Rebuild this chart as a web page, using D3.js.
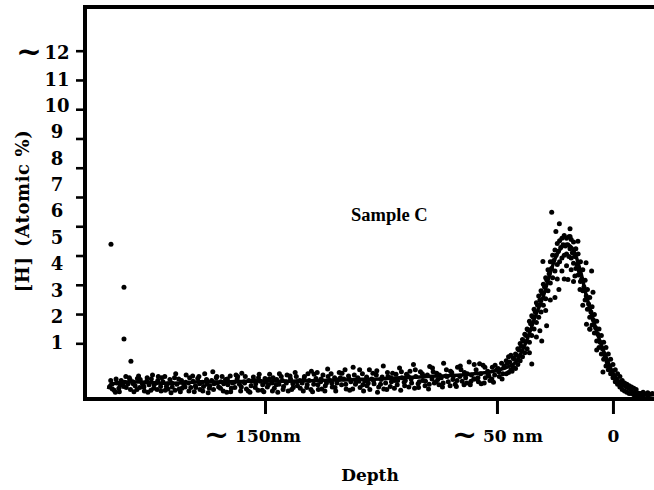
<!DOCTYPE html>
<html>
<head>
<meta charset="utf-8">
<script src="https://cdn.jsdelivr.net/npm/d3@7/dist/d3.min.js"></script>
<style>
  html, body { margin: 0; padding: 0; background: #fff; }
  svg { display: block; }
  text { fill: #000; }
</style>
</head>
<body>
<svg id="chart" width="654" height="490"></svg>
<script>
// Hydrogen depth profile, Sample C: measured points plus fitted curve.

// Y-axis labels (atomic %) and x-axis ticks (depth, nm)
const hLabels = [1, 2, 3, 4, 5, 6, 7, 8, 9, 10, 11, 12];
const hTickMarks = [0, 1, 2, 3, 4, 5, 6, 7, 8, 9, 10];
const depthTicks = [150, 50, 0];
const depthTickLabels = ["~ 150nm", "~ 50 nm", "0"];

// Fitted profile: [depth nm, H atomic %]
const fitCurve = [
  [217.5, -0.78], [216.8, -0.63], [212, -0.52], [203.9, -0.51], [195, -0.56], [186.6, -0.55],
  [178, -0.50], [169.4, -0.51], [160, -0.49], [152.2, -0.47], [143, -0.48], [134.9, -0.47],
  [126, -0.45], [117.7, -0.44], [109, -0.41], [100.4, -0.40], [92, -0.35], [83.2, -0.32],
  [74.6, -0.28], [65.9, -0.25], [58, -0.18], [53.0, -0.13], [46.6, 0.02], [42.2, 0.21],
  [39.2, 0.66], [36.6, 1.19], [33.6, 1.95], [30.2, 2.70], [27.2, 3.57], [24.1, 4.33],
  [20.7, 4.71], [17.7, 4.59], [14.2, 3.76], [11.6, 2.81], [8.6, 1.87], [5.6, 1.04],
  [2.6, 0.36], [-0.9, -0.29], [-5.2, -0.70], [-11.6, -0.97], [-17.7, -1.00]
];

// Measured points on the deep side: [depth nm, H atomic %]
const bulkPoints = [
  [217,-0.70],[216,-0.60],[215,-0.82],[214,-0.55],[213,-0.75],[212,-0.45],[211,-0.68],[210,-0.30],
  [209,-0.58],[208,-0.80],[207,-0.50],[206,-0.65],[205,-0.38],[204,-0.72],[203,-0.55],[202,-0.85],
  [201,-0.48],[200,-0.62],[199,-0.40],[198,-0.75],[197,-0.55],[196,-0.30],[195,-0.68],[194,-0.50],
  [193,-0.82],[192,-0.58],[191,-0.42],[190,-0.70],[189,-0.35],[188,-0.60],[187,-0.78],[186,-0.45],
  [185,-0.62],[184,-0.25],[183,-0.55],[182,-0.72],[181,-0.48],[180,-0.65],[179,-0.38],[178,-0.80],
  [177,-0.52],[176,-0.20],[175,-0.60],[174,-0.75],[173,-0.45],[172,-0.58],[171,-0.35],[170,-0.70],
  [169,-0.50],[168,-0.85],[167,-0.42],[166,-0.62],[165,-0.28],[164,-0.55],[163,-0.72],[162,-0.40],
  [161,-0.60],[160,-0.18],[159,-0.50],[158,-0.78],[157,-0.45],[156,-0.65],[155,-0.32],[154,-0.58],
  [153,-0.82],[152,-0.48],[151,-0.62],[150,-0.38],[149,-0.70],[148,-0.22],[147,-0.55],[146,-0.75],
  [145,-0.42],[144,-0.60],[143,-0.30],[142,-0.68],[141,-0.50],[140,-0.85],[139,-0.40],[138,-0.58],
  [137,-0.15],[136,-0.65],[135,-0.45],
  [216.5,-0.45],[214.5,-0.90],[212.5,-0.62],[210.5,-0.52],[208.5,-0.35],[206.5,-0.88],[204.5,-0.28],
  [202.5,-0.62],[200.5,-0.90],[198.5,-0.25],[196.5,-0.80],[194.5,-0.35],[192.5,-0.68],[190.5,-0.92],
  [188.5,-0.20],[186.5,-0.88],[184.5,-0.70],[182.5,-0.35],[180.5,-0.88],[178.5,-0.30],[176.5,-0.68],
  [174.5,-0.92],[172.5,-0.12],[170.5,-0.55],[168.5,-0.30],[166.5,-0.90],[164.5,-0.75],[162.5,-0.25],
  [160.5,-0.85],[158.5,-0.30],[156.5,-0.90],[154.5,-0.45],[152.5,-0.22],[150.5,-0.88],[148.5,-0.62],
  [146.5,-0.35],[144.5,-0.90],[142.5,-0.45],[140.5,-0.25],[138.5,-0.80],[136.5,-0.30],
  [134,-0.55],[133,-0.30],[132,-0.72],[131,-0.45],[130,-0.10],[129,-0.60],[128,-0.38],[127,-0.80],
  [126,-0.50],[125,-0.25],[124,-0.65],[123,-0.02],[122,-0.45],[121,-0.70],[120,-0.35],[119,-0.55],
  [118,-0.15],[117,-0.62],[116,-0.40],[115,-0.78],[114,-0.28],[113,-0.50],[112,0.05],[111,-0.60],
  [110,-0.35],[109,-0.72],[108,-0.20],[107,-0.48],[106,-0.65],[105,-0.05],[104,-0.40],[103,-0.58],
  [102,-0.25],[101,-0.70],[100,-0.42],[99,0.10],[98,-0.55],[97,-0.30],[96,-0.68],[95,-0.18],
  [94,-0.45],[93,-0.62],[92,0.02],[91,-0.35],[90,-0.52],[89,-0.22],[88,-0.70],[87,-0.40],
  [86,0.15],[85,-0.30],[84,-0.58],[83,-0.12],[82,-0.45],[81,-0.65],[80,-0.25],[79,0.08],
  [78,-0.40],[77,-0.55],[76,-0.18],[75,-0.62],[74,-0.35],[73,0.20],[72,-0.28],[71,-0.50],
  [70,-0.10],[69,-0.42],[68,-0.60],[67,0.05],[66,-0.30],[65,-0.48],[64,-0.15],[63,-0.55],
  [62,0.25],[61,-0.25],[60,-0.40],[59,-0.05],[58,-0.50],[57,-0.20],[56,0.12],[55,-0.35],
  [54,-0.10],[53,-0.45],[52,0.05],[51,-0.25],[50,-0.05],[49,-0.30],[48,0.20],[47,0.05],
  [133.5,-0.85],[131.5,-0.20],[129.5,-0.88],[127.5,-0.15],[125.5,-0.78],[123.5,-0.55],[121.5,-0.20],
  [119.5,-0.85],[117.5,-0.35],[115.5,-0.05],[113.5,-0.82],[111.5,-0.25],[109.5,-0.48],[107.5,-0.85],
  [105.5,-0.55],[103.5,-0.18],[101.5,-0.90],[99.5,-0.32],[97.5,-0.80],[95.5,-0.50],[93.5,-0.22],
  [91.5,-0.82],[89.5,-0.45],[87.5,-0.10],[85.5,-0.75],[83.5,-0.50],[81.5,-0.28],[79.5,-0.78],
  [77.5,-0.12],[75.5,-0.42],[73.5,-0.70],[71.5,-0.30],[69.5,-0.15],[67.5,-0.68],[65.5,-0.05],
  [63.5,-0.35],[61.5,-0.62],[59.5,-0.40],[57.5,0.18],[55.5,-0.55],[53.5,-0.28],[51.5,-0.52],
  [49.5,0.00],[47.5,-0.20],
  [215.8,-0.78],[214.2,-0.40],[212.8,-0.88],[211.2,-0.55],[209.8,-0.72],[208.2,-0.42],[206.8,-0.58],
  [205.2,-0.80],[203.8,-0.42],[202.2,-0.70],[200.8,-0.35],[199.2,-0.82],[197.8,-0.62],[196.2,-0.45],
  [194.8,-0.85],[193.2,-0.30],[191.8,-0.78],[190.2,-0.55],[188.8,-0.82],[187.2,-0.40],[185.8,-0.75],
  [184.2,-0.52],[182.8,-0.85],[181.2,-0.28],[179.8,-0.72],[178.2,-0.58],[176.8,-0.85],[175.2,-0.42],
  [173.8,-0.65],[172.2,-0.80],[170.8,-0.30],[169.2,-0.75],[167.8,-0.58],[166.2,-0.40],[164.8,-0.88],
  [163.2,-0.52],[161.8,-0.30],[160.2,-0.70],[158.8,-0.55],[157.2,-0.85],[155.8,-0.48],[154.2,-0.72],
  [152.8,-0.35],[151.2,-0.82],[149.8,-0.52],[148.2,-0.40],[146.8,-0.85],[145.2,-0.62],[143.8,-0.20],
  [142.2,-0.80],[140.8,-0.55],[139.2,-0.28],[137.8,-0.72],[136.2,-0.50],[134.8,-0.75],[133.2,-0.40],
  [131.8,-0.62],[130.2,-0.80],[128.8,-0.22],[127.2,-0.62],[125.8,-0.40],[124.2,-0.85],[122.8,-0.30],
  [121.2,-0.55],[119.8,-0.72],[118.2,-0.42],[116.8,-0.18],[115.2,-0.60],[113.8,-0.38],[112.2,-0.78],
  [110.8,-0.50],[109.2,-0.05],[107.8,-0.62],[106.2,-0.32],[104.8,-0.80],[103.2,-0.45],[101.8,-0.08],
  [100.2,-0.60],[98.8,-0.78],[97.2,-0.15],[95.8,-0.35],[94.2,-0.75],[92.8,-0.45],[91.2,-0.12],
  [89.8,-0.65],[88.2,-0.30],[86.8,-0.55],[85.2,-0.05],[83.8,-0.72],[82.2,-0.20],[80.8,-0.48],
  [79.2,-0.60],[77.8,0.02],[76.2,-0.50],[74.8,-0.25],[73.2,-0.55],[71.8,-0.05],[70.2,-0.65],
  [68.8,-0.28],[67.2,-0.45],[65.8,0.10],[64.2,-0.62],[62.8,-0.20],[61.2,-0.48],[59.8,0.15],
  [58.2,-0.35],[56.8,-0.58],[55.2,0.05],[53.8,-0.22],[52.2,-0.40],[50.8,0.12],[49.2,-0.12],
  [47.8,-0.40],[46.8,0.10]
];

// Measured points across the near-surface peak
const peakPoints = [
  [46,0.30],[46,-0.20],[45,0.45],[45,-0.15],[44,0.50],[44,-0.05],[43,0.05],[43,0.40],
  [42,0.55],[42,0.00],[41,0.75],[41,0.15],[40,0.95],[40,0.30],[39,1.10],[39,0.45],
  [38,1.30],[38,0.60],[37,1.50],[37,0.75],[36,1.80],[36,1.00],[35,2.00],[35,1.25],
  [34,2.25],[34,1.50],[33,2.50],[33,1.75],[32,2.75],[32,1.95],[31,2.95],[31,2.15],
  [30,3.20],[30,2.40],[29,3.45],[29,2.65],[28,3.75],[28,2.95],[27,4.05],[27,3.25],
  [26,4.30],[26,3.45],[25,4.50],[25,3.70],[24,4.75],[24,3.95],[23,4.85],[23,4.05],
  [22,4.95],[22,4.20],[21,5.05],[21,4.30],[20,4.95],[20,4.35],[19,5.00],[19,4.25],
  [18,4.90],[18,4.20],[17,4.80],[17,4.00],[16,4.55],[16,3.80],[15,4.35],[15,3.55],
  [14,4.05],[14,3.30],[13,3.75],[13,2.95],[12,3.35],[12,2.60],[11,3.00],[11,2.25],
  [10,2.70],[10,1.95],[9,2.35],[9,1.65],[8,2.05],[8,1.35],[7,1.80],[7,1.05],
  [6,1.50],[6,0.80],[5,1.25],[5,0.55],[4,1.00],[4,0.35],[3,0.80],[3,0.10],
  [2,0.55],[2,-0.05],[1,0.35],[1,-0.20],[0,0.15],[0,-0.35],[-1,-0.05],[-1,-0.50],
  [-2,-0.20],[-2,-0.60],[-3,-0.30],[-3,-0.70],[-4,-0.45],[-4,-0.80],[-5,-0.55],[-5,-0.85],
  [-6,-0.60],[-6,-0.90],[-7,-0.65],[-7,-0.95],[-8,-0.70],[-8,-0.95],[-9,-0.75],[-9,-1.00],
  [-10,-0.80],[-10,-1.00],[-11,-0.94],[-11,-1.02],[-12,-0.95],[-12,-1.00],[-13,-0.90],
  [-13,-1.02],[-14,-0.97],[-15,-0.92],[-15,-1.02],[-16,-0.98],[-17,-0.95],
  [45.5,0.20],[44.5,0.25],[43.5,-0.10],[42.5,0.35],[41.5,0.50],[40.5,0.70],[39.5,0.85],
  [38.5,1.05],[37.5,1.25],[36.5,1.45],[35.5,1.70],[34.5,1.95],[33.5,2.15],[32.5,2.40],
  [31.5,2.60],[30.5,2.85],[29.5,3.10],[28.5,3.35],[27.5,3.60],[26.5,3.80],[25.5,4.10],
  [24.5,4.30],[23.5,4.45],[22.5,4.60],[21.5,4.70],[20.5,4.65],[19.5,4.70],[18.5,4.55],
  [17.5,4.40],[16.5,4.25],[15.5,3.95],[14.5,3.70],[13.5,3.40],[12.5,3.10],[11.5,2.75],
  [10.5,2.45],[9.5,2.15],[8.5,1.85],[7.5,1.55],[6.5,1.30],[5.5,1.00],[4.5,0.75],
  [3.5,0.50],[2.5,0.25],[1.5,0.05],[0.5,-0.15],[-0.5,-0.30],[-1.5,-0.45],[-2.5,-0.55],
  [-3.5,-0.65],
  [22,3.70],[20,3.90],[18,3.75],[21,3.40],[17,3.30],[24,3.40],[13,2.40],[27,2.60],
  [33,1.20],[36,0.60],[7,0.70],[29,2.20],[10,1.50],
  [26.4,5.93],[23.1,5.50],[24.6,5.20],[18.5,5.31],[18.5,5.01],[15.1,4.83],[30.2,4.06],
  [11.6,4.02],[9.2,3.70],[8.6,2.90],[11.4,1.68],[9.9,1.49],[30.7,1.05],[31.5,1.43],
  [28.6,1.62],[4.3,-0.13],[35.0,0.17],[23.3,3.00],[25.0,2.70],[19.4,3.38],[14.2,3.00],
  [16.4,3.51]
];

// Isolated points at the deep end
const strayPoints = [[216.4, 4.72], [210.8, 3.09], [210.8, 1.12], [207.8, 0.28]];

const svg = d3.select("#chart");
const frame = { left: 85, right: 654, top: 7, bottom: 399 };

const x = d3.scaleLinear().domain([227.6, -17.7]).range([frame.left, frame.right]);
const y = d3.scaleLinear().domain([-1.1, 12]).range([397.5, 52.5]);
// Tick marks on the left axis are spaced independently from the labels
const yMarks = d3.scaleLinear().domain([0, 10]).range([343.3, 50.7]);

const serif = "'DejaVu Serif', 'Liberation Serif', serif";

// Frame: left, top and bottom rules (open on the right)
svg.append("path")
  .attr("d", `M${frame.right},${frame.top}H${frame.left}V${frame.bottom}H${frame.right}`)
  .attr("fill", "none").attr("stroke", "#000").attr("stroke-width", 4)
  .attr("stroke-linejoin", "miter");

// Left tick marks
const yMarkAxis = d3.axisLeft(yMarks).tickValues(hTickMarks).tickSize(8).tickFormat("");
svg.append("g").attr("transform", `translate(${frame.left - 1},0)`).call(yMarkAxis)
  .call(g => g.select(".domain").remove())
  .call(g => g.selectAll(".tick line").attr("stroke", "#000").attr("stroke-width", 2.6));

// Left labels
const yLabelAxis = d3.axisLeft(y).tickValues(hLabels).tickSize(0).tickPadding(0);
const yl = svg.append("g").attr("transform", "translate(57,0)").call(yLabelAxis);
yl.select(".domain").remove();
yl.selectAll(".tick text")
  .attr("text-anchor", "middle").attr("x", 0).attr("dy", "0.36em")
  .style("font-family", serif).style("font-size", "18px").style("font-weight", "bold")
  .text(d => d);
// tilde before the top value
yl.selectAll(".tick").filter(d => d === 12).append("text")
  .attr("x", -15).attr("dy", "0.3em").attr("text-anchor", "end")
  .style("font-family", serif).style("font-size", "31px").style("font-weight", "bold")
  .text("~");

// Bottom axis
const xAxis = d3.axisBottom(x).tickValues(depthTicks).tickSize(15).tickPadding(0)
  .tickFormat((d, i) => depthTickLabels[i]);
const xg = svg.append("g").attr("transform", `translate(0,${frame.bottom})`).call(xAxis);
xg.select(".domain").remove();
xg.selectAll(".tick line").attr("stroke", "#000").attr("stroke-width", 3);
xg.selectAll(".tick text").each(function (d, i) {
  const t = d3.select(this);
  const label = depthTickLabels[i];
  t.text(null).attr("y", 43).attr("dy", 0)
    .attr("dx", i === 0 ? -13 : 0)
    .style("font-family", serif).style("font-size", "17px").style("font-weight", "bold");
  if (label.startsWith("~")) {
    t.append("tspan").style("font-size", "30px").attr("dy", 3).text("~");
    t.append("tspan").attr("dy", -3).text(label.slice(1));
  } else {
    t.text(label);
  }
});

// Axis titles
svg.append("text")
  .attr("x", 370).attr("y", 481).attr("text-anchor", "middle")
  .style("font-family", serif).style("font-size", "17px").style("font-weight", "bold")
  .text("Depth");

svg.append("text")
  .attr("transform", "translate(29,211) rotate(-90)")
  .attr("text-anchor", "middle")
  .style("font-family", serif).style("font-size", "18px").style("font-weight", "bold")
  .style("letter-spacing", "0.6px")
  .text("[H]\u2002(Atomic %)");

// Sample label
svg.append("text")
  .attr("x", 351).attr("y", 221)
  .style("font-family", "'Liberation Serif', serif").style("font-size", "18.5px").style("font-weight", "bold")
  .text("Sample C");

// Measured points
const allPoints = bulkPoints.concat(peakPoints, strayPoints);
svg.append("g").selectAll("circle").data(allPoints).join("circle")
  .attr("cx", d => x(d[0])).attr("cy", d => y(d[1])).attr("r", 2.5)
  .attr("fill", "#000");

// Fitted curve
svg.append("path").datum(fitCurve)
  .attr("d", d3.line().x(d => x(d[0])).y(d => y(d[1])).curve(d3.curveCatmullRom))
  .attr("fill", "none").attr("stroke", "#000").attr("stroke-width", 3.5)
  .attr("stroke-linejoin", "round");
</script>
</body>
</html>
